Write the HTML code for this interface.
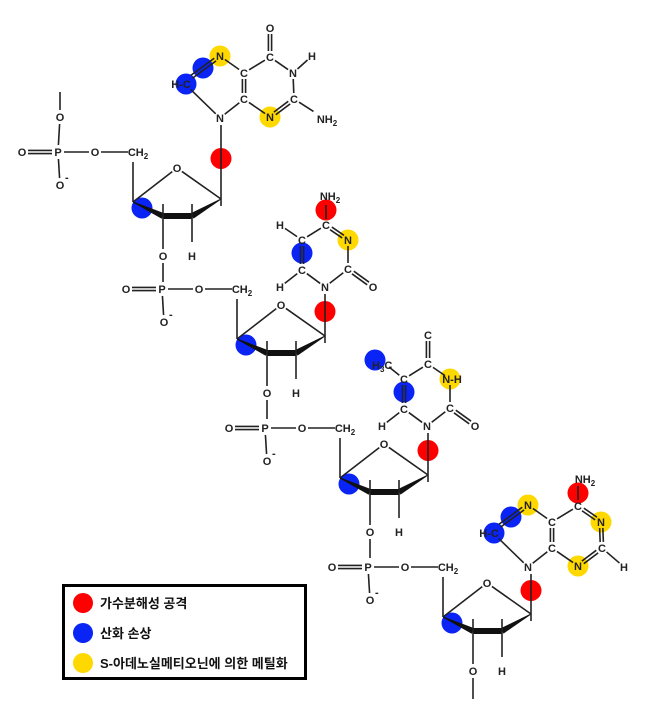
<!DOCTYPE html>
<html><head><meta charset="utf-8"><style>
html,body{margin:0;padding:0;background:#fff;width:646px;height:708px;overflow:hidden}
svg text{font-family:"Liberation Sans",sans-serif;font-weight:bold;font-size:11px;fill:#222}
.lg{font-family:"Liberation Sans","Noto Sans CJK KR",sans-serif;font-size:13px;font-weight:bold;fill:#111}
</style></head><body>
<svg id="s" width="646" height="708" viewBox="0 0 646 708" xmlns="http://www.w3.org/2000/svg">
<g id="circ"></g><g id="bonds" stroke="#222" stroke-width="1.6" fill="none"></g><g id="labels"></g>
<rect x="63.5" y="585.5" width="242" height="93" fill="none" stroke="#000" stroke-width="3"/>
<circle cx="83" cy="603" r="10" fill="#f00"/><text class="lg" x="100" y="608">가수분해성 공격</text>
<circle cx="83" cy="633" r="10" fill="#0a24f5"/><text class="lg" x="100" y="638">산화 손상</text>
<circle cx="83" cy="663" r="10" fill="#ffd800"/><text class="lg" x="100" y="668">S-아데노실메티오닌에 의한 메틸화</text>
</svg>
<script>
const NS="http://www.w3.org/2000/svg";
const B=document.getElementById('bonds'),L=document.getElementById('labels'),C=document.getElementById('circ');
function el(p,t,a){const e=document.createElementNS(NS,t);for(const k in a)e.setAttribute(k,a[k]);p.appendChild(e);return e;}
function lab(x,y,t,sub){const e=el(L,'text',{x:x,y:y+4,'text-anchor':'middle'});e.textContent=t;if(sub){const s=el(e,'tspan',{'font-size':'8','dy':'3'});s.textContent=sub;}}
function circ(x,y,c){el(C,'circle',{cx:x,cy:y,r:10.5,fill:c});}
const R='#f00',BL='#0a24f5',Y='#ffd800';
function bond(x1,y1,x2,y2,a,b,dbl){const dx=x2-x1,dy=y2-y1,l=Math.hypot(dx,dy),ux=dx/l,uy=dy/l;
 const p1=[x1+ux*a,y1+uy*a],p2=[x2-ux*b,y2-uy*b];
 if(dbl){const nx=-uy*1.6,ny=ux*1.6;el(B,'line',{x1:p1[0]+nx,y1:p1[1]+ny,x2:p2[0]+nx,y2:p2[1]+ny});el(B,'line',{x1:p1[0]-nx,y1:p1[1]-ny,x2:p2[0]-nx,y2:p2[1]-ny});}
 else el(B,'line',{x1:p1[0],y1:p1[1],x2:p2[0],y2:p2[1]});}
function wedge(x1,y1,x2,y2,w1,w2){const dx=x2-x1,dy=y2-y1,l=Math.hypot(dx,dy),nx=-dy/l,ny=dx/l;
 el(B,'polygon',{points:`${x1+nx*w1},${y1+ny*w1} ${x2+nx*w2},${y2+ny*w2} ${x2-nx*w2},${y2-ny*w2} ${x1-nx*w1},${y1-ny*w1}`,fill:'#111',stroke:'none'});}
function nucleo(px,py,top,last,ny){
 lab(px,py,'P');lab(px-36,py,'O');lab(px+37,py,'O');lab(px+2,py+33,'O');
 const om=el(L,'text',{x:px+7,y:py+29,'font-size':'8'});om.textContent='-';
 bond(px-36,py,px,py,6,6,true);bond(px,py,px+37,py,6,6);bond(px+37,py,px+70,py,6,0);
 bond(px,py,px+2,py+33,7,7);
 if(top){lab(px+2,py-35,'O');bond(px+2,py-35,px+2,py-60,7,0);bond(px,py,px+2,py-35,7,7);}
 lab(px+80,py,'CH','2');
 const c4=[px+75,py+50],o=[px+119,py+16],c1=[px+163,py+47],c3=[px+105,py+64],c2=[px+134,py+64];
 bond(px+75,py+10,c4[0],c4[1],0,0);lab(o[0],o[1],'O');
 bond(c4[0],c4[1],o[0],o[1],0,6);bond(o[0],o[1],c1[0],c1[1],6,0);
 wedge(c4[0],c4[1],c3[0],c3[1],0.5,3);wedge(c3[0],c3[1],c2[0],c2[1],3,3);wedge(c2[0],c2[1],c1[0],c1[1],3,0.5);
 bond(c1[0],ny,c1[0],c1[1]+7,7,0);
 bond(c3[0],c3[1]-12,c3[0],c3[1]+40,0,7);lab(c3[0],c3[1]+40,'O');
 bond(c2[0],c2[1]-12,c2[0],c2[1]+32,0,6);lab(c2[0],c2[1]+40,'H');
 if(last){bond(c3[0],py+104,c3[0],py+132,7,0);}
 else bond(c3[0],py+104,c3[0],py+137,7,7);
 circ(c4[0]+9,c4[1]+6,BL);circ(c1[0],(ny+c1[1])/2,R);
}
nucleo(58,152,true,false,118);nucleo(162,289,false,false,287);nucleo(265,428,false,false,426);nucleo(368,567,false,true,567);
function purine(ox,oy,ade){
 const P=(x,y)=>[x+ox,y+oy];
 const N7=P(220,56),C8=P(185,84),N9=P(220,118),C5=P(244,73),C4=P(244,99),N3=P(270,117),C2=P(294,99),N1=P(293,73),C6=P(270,57);
 circ(N7[0],N7[1],Y);circ(203+ox,68+oy,BL);circ(C8[0]+1,C8[1],BL);circ(N3[0],N3[1],Y);
 if(ade){circ(N1[0],N1[1],Y);circ(C6[0],C6[1]-13,R);}
 bond(C8[0]+5,C8[1]-6,N7[0],N7[1],2,6,true);
 bond(C8[0],C8[1],N9[0],N9[1],8,6);bond(N9[0],N9[1],C4[0],C4[1],6,6);
 bond(C5[0],C5[1],C4[0],C4[1],6,6,true);bond(N7[0],N7[1],C5[0],C5[1],6,6);
 bond(C5[0],C5[1],C6[0],C6[1],6,6);bond(C4[0],C4[1],N3[0],N3[1],6,6);
 bond(N3[0],N3[1],C2[0],C2[1],6,6,true);bond(C2[0],C2[1],N1[0],N1[1],6,6,ade);bond(N1[0],N1[1],C6[0],C6[1],6,6,ade);
 lab(N7[0],N7[1],'N');lab(N9[0],N9[1],'N');lab(C5[0],C5[1],'C');lab(C4[0],C4[1],'C');lab(N3[0],N3[1],'N');lab(C2[0],C2[1],'C');lab(N1[0],N1[1],'N');lab(C6[0],C6[1],'C');
 lab(C8[0]-4,C8[1],'H-C');
 if(ade){lab(C6[0]+7,C6[1]-27,'NH','2');bond(C6[0],C6[1],C6[0],C6[1]-26,6,6);lab(C2[0]+22,C2[1]+19,'H');bond(C2[0],C2[1],C2[0]+22,C2[1]+19,6,6);}
 else{lab(C6[0],C6[1]-29,'O');bond(C6[0],C6[1],C6[0],C6[1]-29,6,6,true);lab(N1[0]+19,N1[1]-17,'H');bond(N1[0],N1[1],N1[0]+19,N1[1]-17,6,6);
  lab(C2[0]+33,C2[1]+20,'NH','2');bond(C2[0],C2[1],C2[0]+22,C2[1]+14,6,3);}
}
purine(0,0,false);purine(308,449,true);
function pyr(ox,oy,thy){
 const P=(x,y)=>[x+ox,y+oy];
 const N1=P(325,287),C2=P(348,269),N3=P(348,240),C4=P(326,225),C5=P(302,240),C6=P(302,270);
 circ(N3[0],N3[1],Y);circ(302+ox,253+oy,BL);
 if(thy)circ(273+ox,221+oy,BL);else circ(C4[0],C4[1]-15,R);
 bond(N1[0],N1[1],C2[0],C2[1],6,6);bond(C2[0],C2[1],N3[0],N3[1],6,6);bond(N3[0],N3[1],C4[0],C4[1],6,6,!thy);
 bond(C4[0],C4[1],C5[0],C5[1],6,6);bond(C5[0],C5[1],C6[0],C6[1],6,6,true);bond(C6[0],C6[1],N1[0],N1[1],6,6);
 bond(C2[0],C2[1],C2[0]+25,C2[1]+18,6,6,true);lab(C2[0]+25,C2[1]+18,'O');
 bond(C6[0],C6[1],C6[0]-22,C6[1]+17,6,6);lab(C6[0]-22,C6[1]+17,'H');
 lab(N1[0],N1[1],'N');lab(C2[0],C2[1],'C');lab(C4[0],C4[1],'C');lab(C5[0],C5[1],'C');lab(C6[0],C6[1],'C');
 if(thy){lab(N3[0]+2,N3[1],'N-H');lab(C4[0],C4[1]-29,'C');bond(C4[0],C4[1],C4[0],C4[1]-29,6,6,true);
  const t=el(L,'text',{x:C5[0]-32,y:C5[1]-10});t.textContent='H';const s=el(t,'tspan',{'font-size':'8',dy:'3'});s.textContent='3';const s2=el(t,'tspan',{dy:'-3'});s2.textContent='C';
  bond(C5[0]-15,C5[1]-12,C5[0],C5[1],0,6);}
 else{lab(N3[0],N3[1],'N');lab(C4[0]+4,C4[1]-29,'NH','2');bond(C4[0],C4[1],C4[0],C4[1]-24,6,4);
  bond(C5[0],C5[1],C5[0]-22,C5[1]-15,6,6);lab(C5[0]-22,C5[1]-15,'H');}
}
pyr(0,0,false);pyr(102,139,true);
</script>
</body></html>
